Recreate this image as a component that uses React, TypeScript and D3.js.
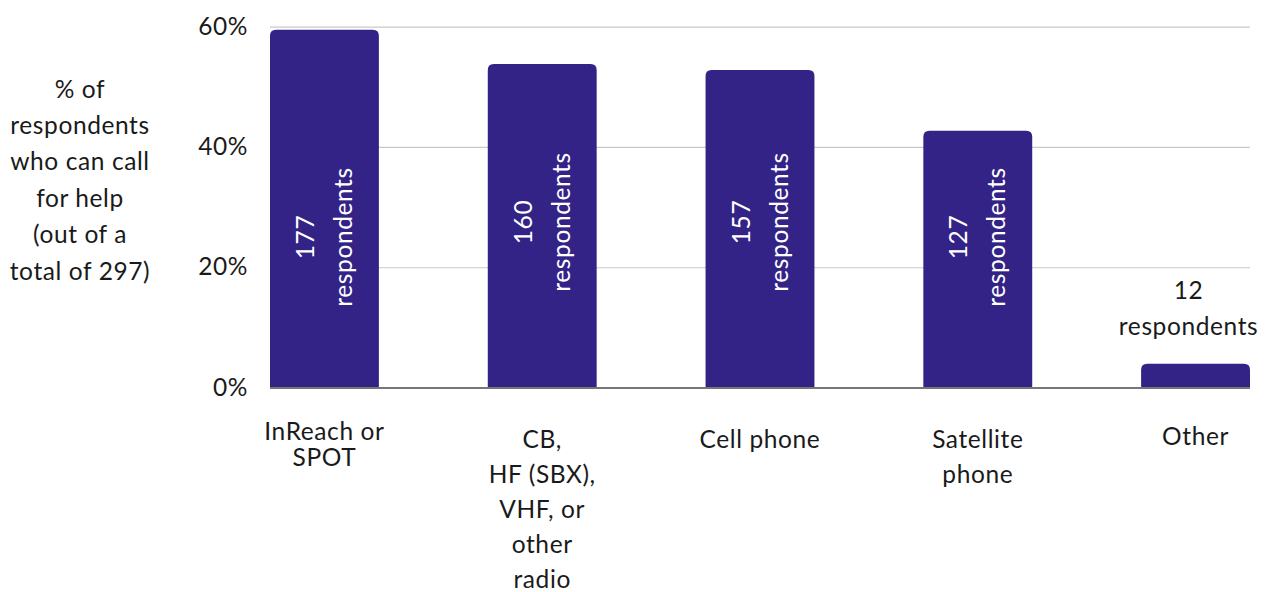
import React from "react";
import * as d3 from "d3";

const categories: string[][] = [
  ["InReach or", "SPOT"],
  ["CB,", "HF (SBX),", "VHF, or", "other", "radio"],
  ["Cell phone"],
  ["Satellite", "phone"],
  ["Other"],
];
const respondents: number[] = [177, 160, 157, 127, 12];
const total = 297;
const yTicks: number[] = [0, 0.2, 0.4, 0.6];
const yTitle: string[] = ["% of", "respondents", "who can call", "for help", "(out of a", "total of 297)"];

// style-only tweaks
const catLineHeights = [26.5, 35, 35, 35, 35];
const catFirstY = [430, 438, 438, 438, 435];
const insideLabelY = [237, 222, 222, 237, null];

const W = 1266;
const H = 592;
const FONT = "Lato, 'Open Sans', sans-serif";
const BAR = "#332386";
const FS = 24.5;
const LS = 0.6;

export default function App() {
  const x = d3
    .scaleBand<number>()
    .domain(d3.range(categories.length))
    .range([270, 1250])
    .paddingInner(0.5)
    .paddingOuter(0);
  const y = d3.scaleLinear().domain([0, 0.6]).range([388, 27.2]);
  const r = 6;
  const bw = x.bandwidth();

  return (
    <svg
      width={W}
      height={H}
      style={{ position: "absolute", left: 0, top: 0 }}
      fontFamily={FONT}
      letterSpacing={LS}
    >
      <rect width={W} height={H} fill="#fff" />
      {yTicks.map((t) => (
        <g key={t}>
          {t > 0 && (
            <line x1={270} x2={1250} y1={y(t)} y2={y(t)} stroke="#c9c9c9" strokeWidth={1.2} />
          )}
          <text
            x={248}
            y={y(t) - 2}
            textAnchor="end"
            dominantBaseline="central"
            fontSize={FS}
            fill="#1a1a1a"
          >
            {d3.format(".0%")(t)}
          </text>
        </g>
      ))}
      {respondents.map((v, i) => {
        const x0 = x(i)!;
        const x1 = x0 + bw;
        const yt = y(v / total);
        const yb = y(0);
        const path = `M${x0},${yb}V${yt + r}Q${x0},${yt} ${x0 + r},${yt}H${x1 - r}Q${x1},${yt} ${x1},${yt + r}V${yb}Z`;
        const cx = x0 + bw / 2;
        const ly = insideLabelY[i];
        return (
          <g key={i}>
            <path d={path} fill={BAR} />
            {ly !== null ? (
              <text
                transform={`translate(${cx},${ly}) rotate(-90)`}
                textAnchor="middle"
                fontSize={FS}
                fill="#fff"
              >
                <tspan x={0} y={-20} dominantBaseline="central">{v}</tspan>
                <tspan x={0} y={18} dominantBaseline="central">respondents</tspan>
              </text>
            ) : (
              <text textAnchor="middle" fontSize={FS} fill="#1a1a1a">
                <tspan x={cx - 7} y={yt - 74} dominantBaseline="central">{v}</tspan>
                <tspan x={cx - 7} y={yt - 38} dominantBaseline="central">respondents</tspan>
              </text>
            )}
            <text textAnchor="middle" fontSize={FS} fill="#1a1a1a">
              {categories[i].map((line, j) => (
                <tspan key={j} x={cx} y={catFirstY[i] + j * catLineHeights[i]} dominantBaseline="central">
                  {line}
                </tspan>
              ))}
            </text>
          </g>
        );
      })}
      <line x1={270} x2={1250} y1={y(0)} y2={y(0)} stroke="#767676" strokeWidth={2} />
      <text textAnchor="middle" fontSize={FS} fill="#1a1a1a">
        {yTitle.map((line, j) => (
          <tspan key={j} x={80} y={88 + j * 36.4} dominantBaseline="central">
            {line}
          </tspan>
        ))}
      </text>
    </svg>
  );
}
